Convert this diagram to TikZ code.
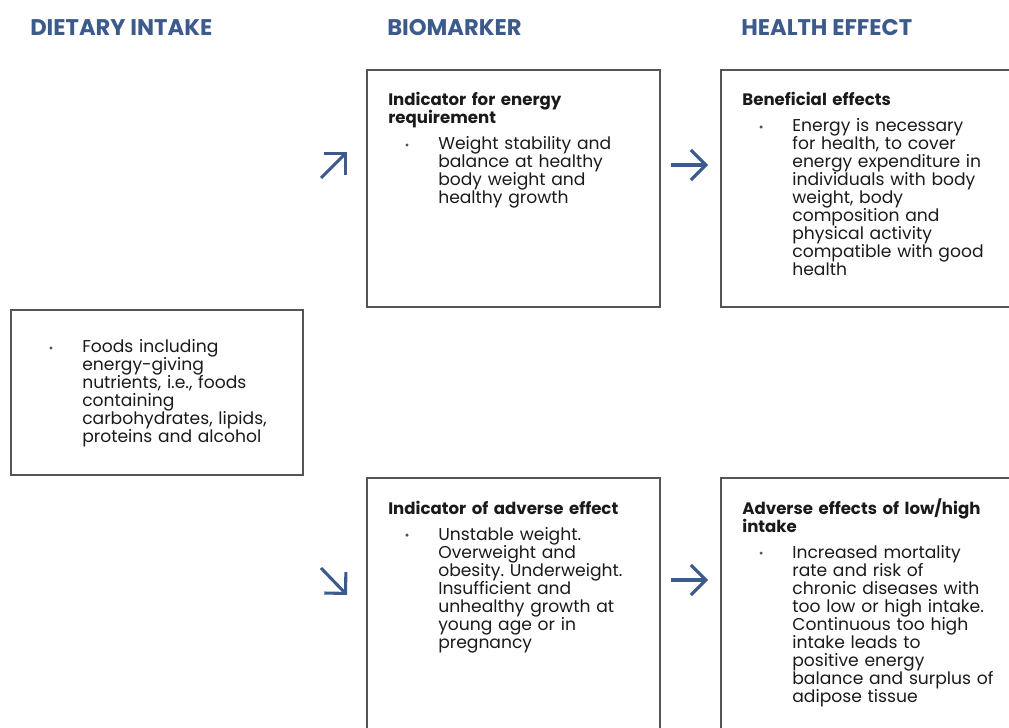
\documentclass[tikz,border=0pt]{standalone}
\usepackage{fontspec}
\setmainfont{Poppins}
\usepackage{xcolor}
\usetikzlibrary{arrows.meta, positioning}
\definecolor{efsablue}{HTML}{3C5A8C}
\definecolor{boxgray}{HTML}{555555}
\definecolor{txtgray}{HTML}{1A1A1A}
\frenchspacing

\begin{document}
\begin{tikzpicture}[x=0.025cm, y=-0.025cm,
    head/.style={anchor=base west, inner sep=0, text=efsablue,
      font=\fontsize{16.1pt}{18pt}\selectfont\bfseries},
    box/.style={draw=boxgray, line width=1.4pt, anchor=north west, inner sep=0, outer sep=0,
      minimum width=7.325cm, minimum height=5.925cm},
    title/.style={anchor=base west, inner sep=0, text width=7cm, align=left, text=txtgray,
      font=\fontsize{11.8pt}{12.8pt}\selectfont\bfseries},
    item/.style={anchor=base west, inner sep=0, text width=6.5cm, align=left, text=txtgray,
      font=\fontsize{12.2pt}{12.8pt}\selectfont},
    dot/.style={circle, fill=txtgray!75, inner sep=0, minimum size=2.4pt},
    arr/.style={draw=efsablue, line width=2.2pt,
      -{Straight Barb[length=0.375cm, width=0.75cm]}}]
  \useasboundingbox (0,0) rectangle (1009,728);
  \clip (0,0) rectangle (1009,728);

  \node[head] (hIntake) at (30,36)  {DIETARY INTAKE};
  \node[head] (hBio)    at (387,36) {BIOMARKER};
  \node[head] (hHealth) at (741,36) {HEALTH EFFECT};

  \node[box, minimum width=7.3cm, minimum height=4.125cm] (intake) at (11,310) {};
  \node[box] (energy) at (367,70) {};
  \node[box] (benefit)  [right=1.525cm of energy] {};
  \node[box, minimum height=6.75cm] (adverseB) [below=4.275cm of energy] {};
  \node[box, minimum height=6.75cm] (adverseH) [below=4.275cm of benefit] {};

  \node[item] (intakeI) at ([shift={(71,43)}]intake.north west)
    {Foods including\\energy-giving\\nutrients, i.e., foods\\containing\\carbohydrates, lipids,\\proteins and alcohol};

  \node[title] (energyT) at ([shift={(21,36)}]energy.north west) {Indicator for energy\\requirement};
  \node[item]  (energyI) at ([shift={(71,80)}]energy.north west)
    {Weight stability and\\balance at healthy\\body weight and\\healthy growth};

  \node[title] (benefitT) at ([shift={(21,36)}]benefit.north west) {Beneficial effects};
  \node[item]  (benefitI) at ([shift={(71,62)}]benefit.north west)
    {Energy is necessary\\for health, to cover\\energy expenditure in\\individuals with body\\weight, body\\composition and\\physical activity\\compatible with good\\health};

  \node[title] (adverseBT) at ([shift={(21,36)}]adverseB.north west) {Indicator of adverse effect};
  \node[item]  (adverseBI) at ([shift={(71,62)}]adverseB.north west)
    {Unstable weight.\\Overweight and\\obesity. Underweight.\\Insufficient and\\unhealthy growth at\\young age or in\\pregnancy};

  \node[title] (adverseHT) at ([shift={(21,36)}]adverseH.north west) {Adverse effects of low/high\\intake};
  \node[item]  (adverseHI) at ([shift={(71,80)}]adverseH.north west)
    {Increased mortality\\rate and risk of\\chronic diseases with\\too low or high intake.\\Continuous too high\\intake leads to\\positive energy\\balance and surplus of\\adipose tissue};

  \foreach \t in {intakeI, energyI, benefitI, adverseBI, adverseHI}
    \node[dot] (\t D) at ([shift={(-31,-5)}]\t.base west) {};

  \coordinate (upS)   at (321,178);
  \coordinate (upE)   at (347,152);
  \coordinate (downS) at (321,568);
  \coordinate (downE) at (347,595);
  \coordinate (topS)  at (671,165);
  \coordinate (topE)  at (708,165);
  \coordinate (botS)  at (671,580);
  \coordinate (botE)  at (708,580);
  \draw[arr] (upS) -- (upE);
  \draw[arr] (downS) -- (downE);
  \draw[arr] (topS) -- (topE);
  \draw[arr] (botS) -- (botE);
\end{tikzpicture}
\end{document}
